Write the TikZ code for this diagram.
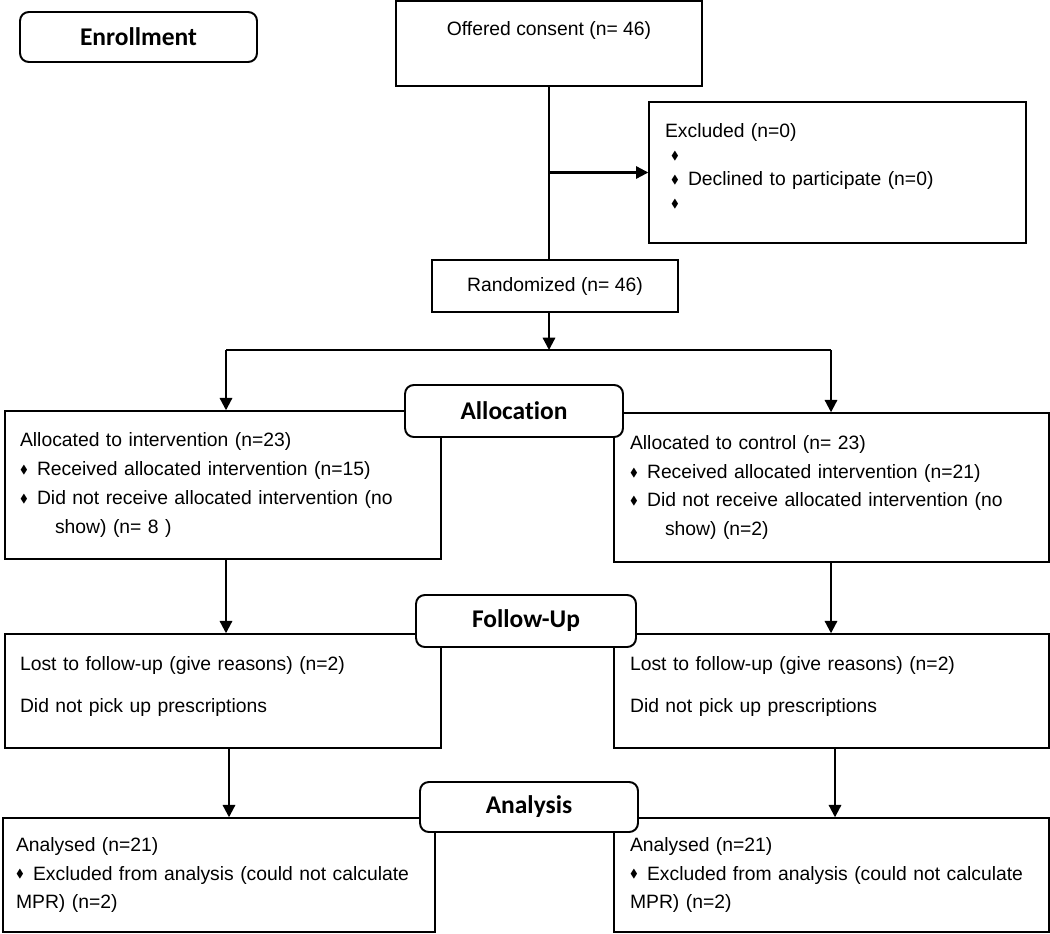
\documentclass[tikz,border=0pt]{standalone}
\usepackage{amssymb}
\usepackage{fontspec}
\setmainfont{Liberation Sans}
\newfontfamily\headfont[Ligatures=NoCommon]{Carlito}
\usetikzlibrary{arrows.meta}
\newcommand{\dmd}{\raisebox{0.2ex}{\scalebox{0.6}{$\blacklozenge$}}}
\newcommand{\itm}{\makebox[0.34cm][l]{\dmd}}

\begin{document}
\begin{tikzpicture}[x=0.02cm, y=-0.02cm, line width=1.25pt,
  box/.style={draw, line width=0.85pt, align=left, font=\fontsize{11}{16.4}\selectfont},
  stage/.style={draw, fill=white, rounded corners=5pt, line width=1.1pt, minimum width=4.36cm, minimum height=1.04cm, font=\headfont\bfseries\fontsize{14.5}{16}\selectfont},
  arr/.style={-{Triangle[length=7pt, width=7pt]}}]
  \useasboundingbox (0,0) rectangle (1050,933);

  \node[box, align=center, minimum width=6.12cm, minimum height=1.7cm] (consent) at (549,43.5) {Offered consent (n= 46)\\[1pt]\mbox{}};
  \node[box, minimum width=7.54cm, minimum height=2.82cm, inner xsep=0.32cm, text width=6.9cm, font=\fontsize{11}{13.8}\selectfont] (excl) at (837.5,172.5)
    {Excluded (n=0)\\ \hspace*{0.12cm}\dmd\\ \hspace*{0.12cm}\itm Declined to participate (n=0)\\ \hspace*{0.12cm}\dmd\\[-7pt]\mbox{}};
  \node[box, align=center, minimum width=4.92cm, minimum height=1.04cm] (rand) at (555,286) {Randomized (n= 46)};

  \node[box, minimum width=8.72cm, minimum height=2.96cm, inner xsep=0.3cm, text width=8.12cm] (intv) at (223,485)
    {Allocated to intervention (n=23)\\ \itm Received allocated intervention (n=15)\\ \itm Did not receive allocated intervention (no\\ \hspace*{0.7cm}show) (n= 8 )};
  \node[box, minimum width=8.7cm, minimum height=2.98cm, inner xsep=0.32cm, text width=8.06cm] (ctrl) at (831.5,487.5)
    {Allocated to control (n= 23)\\ \itm Received allocated intervention (n=21)\\ \itm Did not receive allocated intervention (no\\ \hspace*{0.7cm}show) (n=2)};

  \node[box, minimum width=8.72cm, minimum height=2.28cm, inner xsep=0.3cm, text width=8.12cm, font=\fontsize{11}{24.4}\selectfont] (fuL) at (223,691)
    {Lost to follow-up (give reasons) (n=2)\\ Did not pick up prescriptions\\[-17pt]\mbox{}};
  \node[box, minimum width=8.7cm, minimum height=2.28cm, inner xsep=0.32cm, text width=8.06cm, font=\fontsize{11}{24.4}\selectfont] (fuR) at (831.5,691)
    {Lost to follow-up (give reasons) (n=2)\\ Did not pick up prescriptions\\[-17pt]\mbox{}};

  \node[box, minimum width=8.64cm, minimum height=2.28cm, inner xsep=0.26cm, text width=8.12cm, font=\fontsize{11}{16.2}\selectfont] (anL) at (219,875)
    {Analysed (n=21)\\ \itm Excluded from analysis (could not calculate\\ MPR) (n=2)};
  \node[box, minimum width=8.7cm, minimum height=2.28cm, inner xsep=0.32cm, text width=8.06cm, font=\fontsize{11}{16.2}\selectfont] (anR) at (831.5,875)
    {Analysed (n=21)\\ \itm Excluded from analysis (could not calculate\\ MPR) (n=2)};

  \coordinate (split) at (549,350);
  \coordinate (splitL) at (226,350);
  \coordinate (splitR) at (831,350);
  \coordinate (dropL) at (229,748);
  \coordinate (dropR) at (835,748);

  \draw (consent.south) -- (consent.south |- rand.north);
  \draw[arr] (consent.south |- excl.west) -- (excl.west);
  \draw[arr] (split |- rand.south) -- (split);
  \draw (splitL) -- (splitR);
  \draw[arr] (splitL) -- (splitL |- intv.north);
  \draw[arr] (splitR) -- (splitR |- ctrl.north);
  \draw[arr] (splitL |- intv.south) -- (splitL |- fuL.north);
  \draw[arr] (splitR |- ctrl.south) -- (splitR |- fuR.north);
  \draw[arr] (dropL) -- (dropL |- anL.north);
  \draw[arr] (dropR) -- (dropR |- anR.north);

  \node[stage, minimum width=4.74cm, minimum height=1cm] (enroll) at (138.5,37) {Enrollment};
  \node[stage] (alloc) at (514,411) {Allocation};
  \node[stage, minimum width=4.4cm] (follow) at (526,621) {Follow-Up};
  \node[stage, minimum height=1cm] (analysis) at (529,807) {Analysis};
\end{tikzpicture}
\end{document}
